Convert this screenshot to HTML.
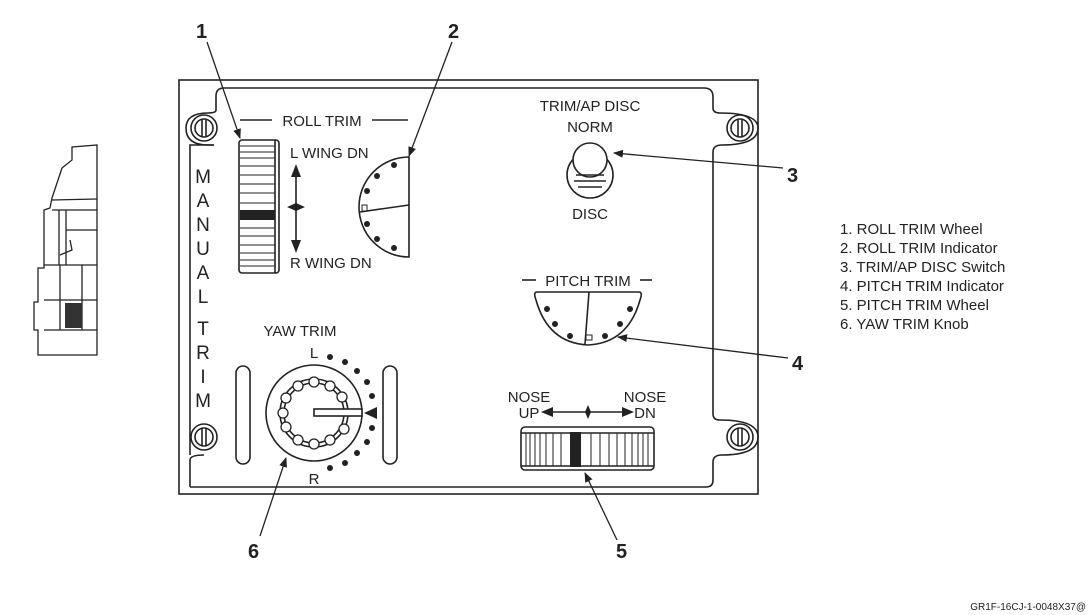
<!DOCTYPE html>
<html><head><style>
html,body{margin:0;padding:0;background:#fff;}
svg{display:block;}
text{font-family:"Liberation Sans",sans-serif;fill:#222;}
</style></head><body>
<svg width="1092" height="615" viewBox="0 0 1092 615" xmlns="http://www.w3.org/2000/svg">
<defs>
<marker id="ah" markerWidth="10" markerHeight="8" refX="9" refY="4" orient="auto" markerUnits="userSpaceOnUse">
<path d="M0,0 L10,4 L0,8 Z" fill="#222"/>
</marker>
</defs>
<g stroke="#222" fill="none" stroke-width="1.6">
<rect x="179" y="80" width="579" height="414"/>
<path d="M224,88 L704,88 Q713,88 713,97 L713,108 Q713,113 720,113 Q758,113 758,128 Q758,145 722,145 Q713,145 713,152 L713,414 Q713,420 720,420 Q758,420 758,437 Q758,455 722,455 Q713,455 713,462 L713,480 Q713,487 706,487 L190,487"/>
<path d="M224,88 Q216,88 216,96 L216,110 Q216,113 208,113 Q186,113 186,128 Q186,145 208,145 L214,145"/>
<path d="M190,487 L190,460 Q190,455 204,455"/>
<path d="M214,145 L190,145 L190,455"/>
<g>
<circle cx="204" cy="128" r="13"/><circle cx="204" cy="128" r="9"/><line x1="202" y1="119" x2="202" y2="137"/><line x1="206" y1="119" x2="206" y2="137"/>
<circle cx="740" cy="128" r="13"/><circle cx="740" cy="128" r="9"/><line x1="738" y1="119" x2="738" y2="137"/><line x1="742" y1="119" x2="742" y2="137"/>
<circle cx="204" cy="437" r="13"/><circle cx="204" cy="437" r="9"/><line x1="202" y1="428" x2="202" y2="446"/><line x1="206" y1="428" x2="206" y2="446"/>
<circle cx="740" cy="437" r="13"/><circle cx="740" cy="437" r="9"/><line x1="738" y1="428" x2="738" y2="446"/><line x1="742" y1="428" x2="742" y2="446"/>
</g>
<line x1="240" y1="120" x2="272" y2="120"/><line x1="372" y1="120" x2="408" y2="120"/>
<rect x="239" y="140" width="40" height="133" rx="3"/>
<line x1="275" y1="140" x2="275" y2="273"/>
<g stroke-width="1">
<line x1="240" y1="146" x2="275" y2="146"/><line x1="240" y1="152" x2="275" y2="152"/><line x1="240" y1="158" x2="275" y2="158"/>
<line x1="240" y1="166" x2="275" y2="166"/><line x1="240" y1="175" x2="275" y2="175"/><line x1="240" y1="184" x2="275" y2="184"/>
<line x1="240" y1="193" x2="275" y2="193"/><line x1="240" y1="203" x2="275" y2="203"/><line x1="240" y1="228" x2="275" y2="228"/>
<line x1="240" y1="236" x2="275" y2="236"/><line x1="240" y1="245" x2="275" y2="245"/><line x1="240" y1="253" x2="275" y2="253"/>
<line x1="240" y1="260" x2="275" y2="260"/><line x1="240" y1="266" x2="275" y2="266"/>
</g>
<line x1="296" y1="172" x2="296" y2="245"/>
<path d="M409,157 A50,50 0 0 0 409,257 Z"/>
<line x1="360" y1="212" x2="409" y2="205"/>
<rect x="362" y="205" width="5" height="6" stroke-width="1"/>
<circle cx="590" cy="175" r="23"/>
<circle cx="590" cy="160" r="17" fill="#fff"/>
<path d="M576,175 L604,175 M574,181 L606,181 M578,187 L602,187"/>
<line x1="522" y1="280" x2="536" y2="280"/><line x1="640" y1="280" x2="652" y2="280"/>
<path d="M537,292 L639,292 Q643,292 640,300 Q628,343 588,345 Q548,343 536,300 Q533,292 537,292 Z"/>
<line x1="589" y1="292" x2="585" y2="344"/>
<rect x="586" y="335" width="6" height="5" stroke-width="1"/>
<line x1="550" y1="412" x2="625" y2="412"/>
<rect x="521" y="427" width="133" height="43" rx="4"/>
<line x1="521" y1="433" x2="654" y2="433"/><line x1="521" y1="466" x2="654" y2="466"/>
<g stroke-width="1">
<line x1="526" y1="433" x2="526" y2="466"/><line x1="530" y1="433" x2="530" y2="466"/><line x1="535" y1="433" x2="535" y2="466"/>
<line x1="540" y1="433" x2="540" y2="466"/><line x1="546" y1="433" x2="546" y2="466"/><line x1="553" y1="433" x2="553" y2="466"/>
<line x1="561" y1="433" x2="561" y2="466"/><line x1="591" y1="433" x2="591" y2="466"/><line x1="600" y1="433" x2="600" y2="466"/>
<line x1="609" y1="433" x2="609" y2="466"/><line x1="617" y1="433" x2="617" y2="466"/><line x1="625" y1="433" x2="625" y2="466"/>
<line x1="632" y1="433" x2="632" y2="466"/><line x1="638" y1="433" x2="638" y2="466"/><line x1="643" y1="433" x2="643" y2="466"/><line x1="648" y1="433" x2="648" y2="466"/>
</g>
<rect x="236" y="366" width="14" height="98" rx="7"/>
<rect x="383" y="366" width="14" height="98" rx="7"/>
<circle cx="314" cy="413" r="48"/>
<circle cx="314" cy="413" r="34"/>
<circle cx="314" cy="413" r="30"/>
<rect x="314" y="409" width="48" height="7" fill="#fff"/>
</g>
<g fill="#222">
<rect x="240" y="210" width="35" height="10"/>
<rect x="570" y="432" width="11" height="35"/>
<path d="M296,164 L291,177 L301,177 Z"/><path d="M296,253 L291,240 L301,240 Z"/>
<path d="M287,207 L296,203 L305,207 L296,211 Z"/>
<path d="M541,412 L553,407 L553,417 Z"/><path d="M634,412 L622,407 L622,417 Z"/>
<path d="M588,405 L591,412 L588,419 L585,412 Z"/>
<path d="M364,413 L377,407 L377,419 Z"/>
<circle cx="394" cy="165" r="3"/><circle cx="377" cy="176" r="3"/><circle cx="367" cy="191" r="3"/>
<circle cx="367" cy="224" r="3"/><circle cx="377" cy="239" r="3"/><circle cx="394" cy="248" r="3"/>
<circle cx="547" cy="309" r="3"/><circle cx="555" cy="324" r="3"/><circle cx="570" cy="336" r="3"/>
<circle cx="605" cy="336" r="3"/><circle cx="620" cy="324" r="3"/><circle cx="630" cy="309" r="3"/>
<circle cx="330" cy="357" r="3"/><circle cx="345" cy="362" r="3"/><circle cx="357" cy="371" r="3"/>
<circle cx="367" cy="382" r="3"/><circle cx="372" cy="396" r="3"/><circle cx="372" cy="428" r="3"/>
<circle cx="367" cy="442" r="3"/><circle cx="357" cy="453" r="3"/><circle cx="345" cy="463" r="3"/><circle cx="330" cy="468" r="3"/>
</g>
<g fill="#fff" stroke="#222" stroke-width="1.3">
<circle cx="314" cy="382" r="5"/><circle cx="330" cy="386" r="5"/><circle cx="342" cy="397" r="5"/><circle cx="344" cy="429" r="5"/>
<circle cx="330" cy="440" r="5"/><circle cx="314" cy="444" r="5"/><circle cx="298" cy="440" r="5"/><circle cx="286" cy="427" r="5"/>
<circle cx="283" cy="413" r="5"/><circle cx="286" cy="398" r="5"/><circle cx="298" cy="386" r="5"/>
</g>
<g stroke="#222" stroke-width="1.3" fill="none" marker-end="url(#ah)">
<line x1="207" y1="42" x2="240" y2="138"/>
<line x1="452" y1="42" x2="409" y2="156"/>
<line x1="783" y1="168" x2="614" y2="153"/>
<line x1="788" y1="358" x2="618" y2="337"/>
<line x1="617" y1="540" x2="585" y2="473"/>
<line x1="260" y1="536" x2="286" y2="458"/>
</g>
<g font-size="15">
<text x="322" y="126" text-anchor="middle">ROLL TRIM</text>
<text x="290" y="158">L WING DN</text>
<text x="290" y="268">R WING DN</text>
<text x="590" y="111" text-anchor="middle">TRIM/AP DISC</text>
<text x="590" y="132" text-anchor="middle">NORM</text>
<text x="590" y="219" text-anchor="middle">DISC</text>
<text x="588" y="286" text-anchor="middle">PITCH TRIM</text>
<text x="300" y="336" text-anchor="middle">YAW TRIM</text>
<text x="314" y="358" text-anchor="middle">L</text>
<text x="314" y="484" text-anchor="middle">R</text>
<text x="529" y="402" text-anchor="middle">NOSE</text>
<text x="529" y="418" text-anchor="middle">UP</text>
<text x="645" y="402" text-anchor="middle">NOSE</text>
<text x="645" y="418" text-anchor="middle">DN</text>
</g>
<g font-size="19" text-anchor="middle">
<text x="203" y="183">M</text><text x="203" y="207">A</text><text x="203" y="231">N</text><text x="203" y="255">U</text>
<text x="203" y="279">A</text><text x="203" y="303">L</text><text x="203" y="335">T</text><text x="203" y="359">R</text>
<text x="203" y="383">I</text><text x="203" y="407">M</text>
</g>
<g font-size="20" font-weight="bold">
<text x="196" y="38">1</text><text x="448" y="38">2</text><text x="787" y="182">3</text>
<text x="792" y="370">4</text><text x="616" y="558">5</text><text x="248" y="558">6</text>
</g>
<g font-size="15">
<text x="840" y="234">1. ROLL TRIM Wheel</text>
<text x="840" y="253">2. ROLL TRIM Indicator</text>
<text x="840" y="272">3. TRIM/AP DISC Switch</text>
<text x="840" y="291">4. PITCH TRIM Indicator</text>
<text x="840" y="310">5. PITCH TRIM Wheel</text>
<text x="840" y="329">6. YAW TRIM Knob</text>
</g>
<text x="1086" y="610" font-size="10" text-anchor="end">GR1F-16CJ-1-0048X37@</text>
<g stroke="#222" fill="none" stroke-width="1.3">
<path d="M72,147 L97,145 L97,355 L38,355 L38,330 L34,330 L34,302 L38,302 L38,268 L44,268 L44,210 L50,208 L52,198 L62,168 L72,160 Z"/>
<path d="M52,200 L97,199 M52,210 L97,210 M59,210 L59,265 M66,230 L97,230 M66,210 L66,265 M44,265 L97,265 M44,300 L97,300 M44,330 L97,330 M60,265 L60,330 M82,265 L82,330 M70,240 L72,250 L60,255"/>
</g>
<rect x="65" y="303" width="17" height="25" fill="#333"/>
</svg>
</body></html>
